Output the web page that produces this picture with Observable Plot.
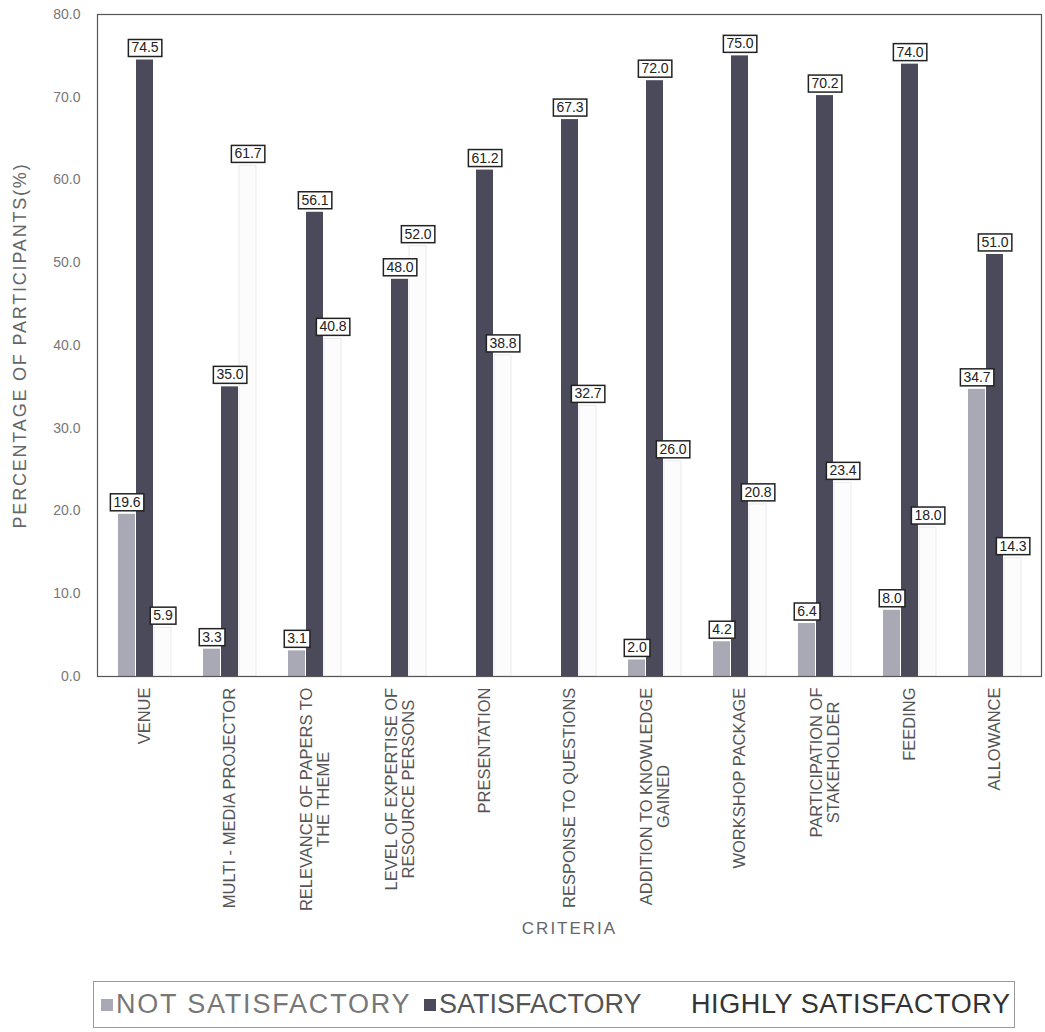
<!DOCTYPE html>
<html>
<head>
<meta charset="utf-8">
<script src="https://cdn.jsdelivr.net/npm/d3@7"></script>
<script src="https://cdn.jsdelivr.net/npm/@observablehq/plot@0.6"></script>
<style>
  html, body { margin: 0; padding: 0; background: #fff; }
  body { width: 1045px; height: 1032px; overflow: hidden; font-family: "Liberation Sans", Arial, sans-serif; }
  #legend {
    position: absolute; left: 93px; top: 981px; width: 922px; height: 47px;
    border: 1px solid #999; box-sizing: border-box;
    font-size: 27px; line-height: 45px; white-space: nowrap;
  }
  #legend .item { position: absolute; top: 0; }
  #legend .sw { display: inline-block; width: 12px; height: 12px; margin-right: 3px; vertical-align: 2px; }
</style>
</head>
<body>
<div id="chart"></div>
<div id="legend"></div>
<script>
const categories = [
  "VENUE",
  "MULTI - MEDIA PROJECTOR",
  "RELEVANCE OF PAPERS TO\nTHE THEME",
  "LEVEL OF EXPERTISE OF\nRESOURCE PERSONS",
  "PRESENTATION",
  "RESPONSE TO QUESTIONS",
  "ADDITION TO KNOWLEDGE\nGAINED",
  "WORKSHOP PACKAGE",
  "PARTICIPATION OF\nSTAKEHOLDER",
  "FEEDING",
  "ALLOWANCE"
];
const seriesNames = ["NOT SATISFACTORY", "SATISFACTORY", "HIGHLY SATISFACTORY"];
const notSatisfactory    = [19.6, 3.3, 3.1, 0, 0, 0, 2.0, 4.2, 6.4, 8.0, 34.7];
const satisfactory       = [74.5, 35.0, 56.1, 48.0, 61.2, 67.3, 72.0, 75.0, 70.2, 74.0, 51.0];
const highlySatisfactory = [5.9, 61.7, 40.8, 52.0, 38.8, 32.7, 26.0, 20.8, 23.4, 18.0, 14.3];
const yTicks = [0, 10, 20, 30, 40, 50, 60, 70, 80];

const seriesValues = [notSatisfactory, satisfactory, highlySatisfactory];
const seriesFill = ["#a9a9b6", "#4a4a5b", "#fcfcfc"];
const seriesStroke = ["none", "none", "#e6e6ea"];
const seriesDx = [-18, 0, 18];

const tables = seriesValues.map((vals, s) =>
  categories.map((c, i) => ({category: c, value: vals[i], series: seriesNames[s]}))
);

const marks = [];
tables.forEach((t, s) => {
  marks.push(Plot.barY(t, {
    x: "category", y: "value", fill: seriesFill[s], stroke: seriesStroke[s], strokeWidth: 0.8,
    insetLeft: 34, insetRight: 34, dx: seriesDx[s]
  }));
});
tables.forEach((t, s) => {
  marks.push(Plot.text(t.filter(d => d.value > 0), {
    x: "category", y: "value", text: d => d3.format(".1f")(d.value),
    dx: seriesDx[s], dy: -12, fontSize: 14, fill: "#222"
  }));
});

// category labels: rotated, lines centred on each other, starting just below the axis
const tickFont = 16.5;
const ctx = document.createElement("canvas").getContext("2d");
ctx.font = tickFont + "px 'Liberation Sans'";
categories.forEach(c => {
  const maxW = d3.max(c.split("\n"), l => ctx.measureText(l).width);
  marks.push(Plot.text([{category: c, base: 0}], {
    x: "category", y: "base", text: "category", rotate: -90,
    textAnchor: "middle", lineAnchor: "middle", fontSize: tickFont, fill: "#555",
    dy: 11 + maxW / 2
  }));
});

const chart = Plot.plot({
  width: 1045,
  height: 968,
  marginLeft: 97,
  marginRight: 4,
  marginTop: 14,
  marginBottom: 292,
  style: {fontFamily: "'Liberation Sans', Arial, sans-serif", background: "#fff", color: "#444"},
  x: {domain: categories, padding: 0, axis: null},
  y: {domain: [0, 80], axis: null},
  marks: [
    ...marks,
    Plot.frame({stroke: "#555", strokeWidth: 1.2}),
    Plot.axisY({
      ticks: yTicks, tickFormat: d3.format(".1f"), tickSize: 0, tickPadding: 17,
      fontSize: 14, fill: "#777", label: null
    }),
    Plot.axisY({
      ticks: [], label: "PERCENTAGE OF PARTICIPANTS(%)", labelAnchor: "center", labelArrow: "none",
      labelOffset: 84, fontSize: 18, fill: "#666"
    }),
    Plot.axisX({
      ticks: [], label: "CRITERIA", labelAnchor: "center", labelArrow: "none",
      labelOffset: 257, fontSize: 17, fill: "#666"
    })
  ]
});
document.getElementById("chart").appendChild(chart);

// letter spacing for the axis titles
chart.querySelectorAll("text").forEach(t => {
  const s = t.textContent;
  if (s === "CRITERIA") t.setAttribute("letter-spacing", "2");
  if (s === "PERCENTAGE OF PARTICIPANTS(%)") t.setAttribute("letter-spacing", "1.8");
});

// draw boxed value labels: white rectangle with dark border behind each value text
chart.querySelectorAll('g[aria-label="text"] text').forEach(t => {
  if (!/^\d+\.\d$/.test(t.textContent)) return;
  const b = t.getBBox();
  const r = document.createElementNS("http://www.w3.org/2000/svg", "rect");
  r.setAttribute("x", b.x - 3);
  r.setAttribute("y", b.y);
  r.setAttribute("width", b.width + 6);
  r.setAttribute("height", b.height + 1);
  r.setAttribute("fill", "#fff");
  r.setAttribute("stroke", "#222");
  r.setAttribute("stroke-width", 1.5);
  if (t.getAttribute("transform")) r.setAttribute("transform", t.getAttribute("transform"));
  t.parentNode.insertBefore(r, t);
});

// legend (HTML, below the SVG)
const legend = document.getElementById("legend");
const legendPos = [7, 330, 597];
const legendText = ["#777", "#555", "#333"];
const legendSpacing = ["1.8px", "0px", "0.6px"];
seriesNames.forEach((name, s) => {
  const item = document.createElement("span");
  item.className = "item";
  item.style.left = legendPos[s] + "px";
  item.style.color = legendText[s];
  item.style.letterSpacing = legendSpacing[s];
  if (s < 2) {
    const sw = document.createElement("span");
    sw.className = "sw";
    sw.style.background = seriesFill[s];
    item.appendChild(sw);
  }
  item.appendChild(document.createTextNode(name));
  legend.appendChild(item);
});
</script>
</body>
</html>
